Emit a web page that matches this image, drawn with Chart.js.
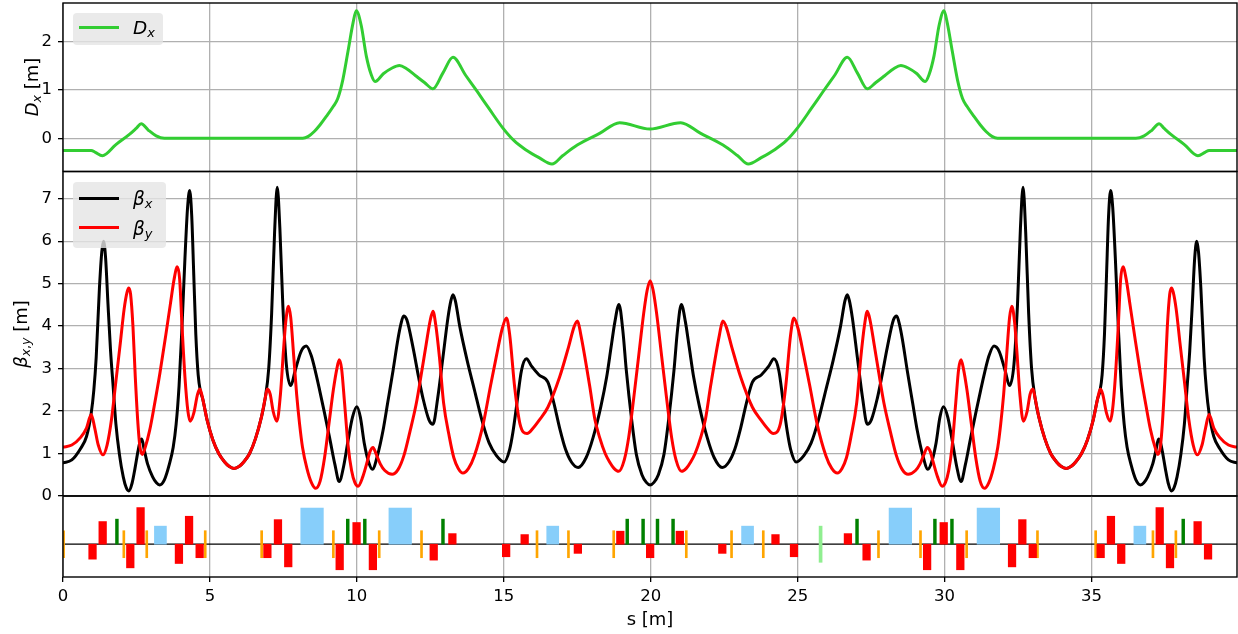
<!DOCTYPE html>
<html>
<head>
<meta charset="utf-8">
<script src="https://cdn.jsdelivr.net/npm/chart.js@4.4.1/dist/chart.umd.min.js"></script>
<style>
html, body { margin: 0; padding: 0; background: #fff; }
#wrap { position: relative; width: 1238px; height: 634px; overflow: hidden; font-family: 'DejaVu Sans', sans-serif; color: #000; }
canvas { position: absolute; left: 0; top: 0; }
.leg { position: absolute; background: rgba(229,229,229,0.8); border-radius: 4px; }
.sw { position: absolute; left: 6px; width: 40px; height: 3px; }
.lt { position: absolute; left: 60px; font-size: 18.5px; line-height: 1; white-space: nowrap; }
.yt { position: absolute; transform: translate(-50%, -50%) rotate(-90deg); font-size: 18px; line-height: 1; white-space: nowrap; }
.sb { font-size: 0.7em; vertical-align: -0.25em; line-height: 0; }
</style>
</head>
<body>
<div id="wrap">
  <canvas id="cD" width="1238" height="634"></canvas>
  <canvas id="cB" width="1238" height="634"></canvas>
  <canvas id="cL" width="1238" height="634"></canvas>

  <div class="yt" style="left:32px;top:87px"><i>D</i><span class="sb"><i>x</i></span> [m]</div>
  <div class="yt" style="left:21px;top:334px"><i>β</i><span class="sb"><i>x</i>,<i>y</i></span> [m]</div>

  <div class="leg" style="left:73px;top:13px;width:90px;height:32px">
    <div class="sw" style="top:13.2px;background:#32cd32"></div>
    <div class="lt" style="top:5.6px"><i>D</i><span class="sb"><i>x</i></span></div>
  </div>
  <div class="leg" style="left:73px;top:182px;width:93px;height:66px">
    <div class="sw" style="top:14.8px;background:#000"></div>
    <div class="lt" style="top:8.1px"><i>β</i><span class="sb"><i>x</i></span></div>
    <div class="sw" style="top:44.2px;background:#ff0000"></div>
    <div class="lt" style="top:37.5px"><i>β</i><span class="sb"><i>y</i></span></div>
  </div>
</div>
<script>
// lattice length [m]
const sMax = 39.95;

// horizontal dispersion D_x [m] : [s, value]
const dispX = [
  [0,-0.25],[0.96,-0.25],[1.1,-0.29],[1.34,-0.36],[1.8,-0.13],[2.26,0.08],[2.5,0.21],[2.66,0.30],
  [2.9,0.17],[3.17,0.05],[3.45,0.0],[8.16,0.0],[8.35,0.04],[8.55,0.14],[8.75,0.28],[8.96,0.45],
  [9.2,0.66],[9.35,0.82],[9.52,1.2],[9.7,1.8],[9.87,2.38],[9.98,2.63],[10.15,2.32],[10.32,1.70],
  [10.49,1.31],[10.62,1.17],[10.9,1.33],[11.2,1.45],[11.45,1.50],[11.68,1.44],[12.0,1.29],[12.3,1.15],
  [12.59,1.02],[12.93,1.35],[13.27,1.67],[13.7,1.30],[14.1,0.96],[14.5,0.61],[14.97,0.21],[15.35,-0.05],
  [15.73,-0.23],[16.2,-0.40],[16.64,-0.53],[17.0,-0.36],[17.5,-0.14],[18.26,0.10],[18.94,0.32],[19.97,0.19],
  [21.02,0.32],[21.7,0.10],[22.46,-0.14],[22.96,-0.36],[23.32,-0.53],[23.76,-0.40],[24.23,-0.23],[24.61,-0.05],
  [24.99,0.21],[25.46,0.61],[25.86,0.96],[26.26,1.30],[26.69,1.67],[27.03,1.35],[27.37,1.02],[27.66,1.15],
  [27.96,1.29],[28.28,1.44],[28.51,1.50],[28.76,1.45],[29.06,1.33],[29.34,1.17],[29.47,1.31],[29.64,1.70],
  [29.81,2.32],[29.98,2.63],[30.09,2.38],[30.26,1.80],[30.44,1.20],[30.61,0.82],[30.76,0.66],[31.0,0.45],
  [31.21,0.28],[31.41,0.14],[31.61,0.04],[31.8,0.0],[36.51,0.0],[36.79,0.05],[37.06,0.17],[37.3,0.30],
  [37.46,0.21],[37.7,0.08],[38.16,-0.13],[38.62,-0.36],[38.86,-0.29],[39.0,-0.25],[39.95,-0.25]
];

// horizontal beta function [m]
const betaX = [
  [0,0.78],[0.3,0.85],[0.6,1.12],[0.8,1.40],[0.96,1.95],[1.05,2.5],[1.13,3.27],[1.24,4.90],[1.32,5.75],
  [1.38,6.00],[1.45,5.60],[1.53,4.53],[1.62,3.40],[1.70,2.64],[1.80,1.70],[1.92,0.98],[2.05,0.45],[2.15,0.20],
  [2.24,0.12],[2.35,0.30],[2.45,0.65],[2.55,1.05],[2.62,1.28],[2.68,1.34],[2.76,1.10],[2.88,0.75],[3.05,0.45],
  [3.18,0.31],[3.29,0.26],[3.45,0.38],[3.62,0.75],[3.75,1.15],[3.85,1.69],[3.95,2.60],[4.05,4.00],[4.15,5.60],
  [4.24,6.80],[4.31,7.19],[4.38,6.60],[4.45,5.20],[4.52,3.80],[4.60,2.85],[4.68,2.45],[4.75,2.30],[4.90,1.80],
  [5.10,1.32],[5.30,1.00],[5.50,0.80],[5.65,0.70],[5.82,0.65],[6.00,0.70],[6.15,0.80],[6.35,1.00],[6.55,1.35],
  [6.75,1.85],[6.88,2.30],[7.00,3.00],[7.10,4.30],[7.20,6.20],[7.29,7.27],[7.38,6.30],[7.48,4.50],[7.60,3.10],
  [7.75,2.60],[7.90,2.95],[8.10,3.40],[8.28,3.53],[8.45,3.30],[8.60,2.90],[8.73,2.50],[8.90,1.95],[9.07,1.38],
  [9.25,0.75],[9.40,0.34],[9.55,0.70],[9.70,1.30],[9.85,1.85],[10.00,2.10],[10.12,1.85],[10.25,1.25],[10.40,0.80],
  [10.53,0.63],[10.70,0.95],[10.89,1.54],[11.05,2.20],[11.23,2.95],[11.40,3.70],[11.50,4.05],[11.59,4.24],[11.70,4.15],
  [11.91,3.50],[12.10,2.80],[12.25,2.30],[12.45,1.80],[12.59,1.69],[12.75,2.30],[12.93,3.27],[13.10,4.20],[13.20,4.60],
  [13.27,4.74],[13.35,4.60],[13.50,4.00],[13.75,3.20],[14.00,2.50],[14.25,1.80],[14.50,1.25],[14.75,0.95],[15.01,0.80],
  [15.20,1.10],[15.31,1.50],[15.45,2.20],[15.60,2.95],[15.77,3.23],[15.95,3.05],[16.20,2.85],[16.50,2.68],[16.70,2.20],
  [16.90,1.60],[17.10,1.10],[17.30,0.80],[17.53,0.67],[17.80,0.90],[18.04,1.38],[18.30,2.10],[18.50,2.80],[18.65,3.50],
  [18.78,4.10],[18.92,4.51],[19.05,3.90],[19.17,2.95],[19.35,1.80],[19.51,0.98],[19.70,0.50],[19.85,0.32],[19.98,0.26],
  [20.11,0.32],[20.26,0.50],[20.45,0.98],[20.61,1.80],[20.79,2.95],[20.91,3.90],[21.04,4.51],[21.18,4.10],[21.31,3.50],
  [21.46,2.80],[21.66,2.10],[21.92,1.38],[22.16,0.90],[22.43,0.67],[22.66,0.80],[22.86,1.10],[23.06,1.60],[23.26,2.20],
  [23.46,2.68],[23.76,2.85],[24.01,3.05],[24.19,3.23],[24.36,2.95],[24.51,2.20],[24.65,1.50],[24.76,1.10],[24.95,0.80],
  [25.21,0.95],[25.46,1.25],[25.71,1.80],[25.96,2.50],[26.21,3.20],[26.46,4.00],[26.61,4.60],[26.69,4.74],[26.76,4.60],
  [26.86,4.20],[27.03,3.27],[27.21,2.30],[27.37,1.69],[27.51,1.80],[27.71,2.30],[27.86,2.80],[28.05,3.50],[28.26,4.15],
  [28.37,4.24],[28.46,4.05],[28.56,3.70],[28.73,2.95],[28.91,2.20],[29.07,1.54],[29.26,0.95],[29.43,0.63],[29.56,0.80],
  [29.71,1.25],[29.84,1.85],[29.96,2.10],[30.11,1.85],[30.26,1.30],[30.41,0.70],[30.56,0.34],[30.71,0.75],[30.89,1.38],
  [31.06,1.95],[31.23,2.50],[31.36,2.90],[31.51,3.30],[31.68,3.53],[31.86,3.40],[32.06,2.95],[32.21,2.60],[32.36,3.10],
  [32.48,4.50],[32.58,6.30],[32.67,7.27],[32.76,6.20],[32.86,4.30],[32.96,3.00],[33.08,2.30],[33.21,1.85],[33.41,1.35],
  [33.61,1.00],[33.81,0.80],[33.96,0.70],[34.14,0.65],[34.31,0.70],[34.46,0.80],[34.66,1.00],[34.86,1.32],[35.06,1.80],
  [35.21,2.30],[35.28,2.45],[35.36,2.85],[35.44,3.80],[35.51,5.20],[35.58,6.60],[35.65,7.19],[35.72,6.80],[35.81,5.60],
  [35.91,4.00],[36.01,2.60],[36.11,1.69],[36.21,1.15],[36.34,0.75],[36.51,0.38],[36.67,0.26],[36.78,0.31],[36.91,0.45],
  [37.08,0.75],[37.20,1.10],[37.28,1.34],[37.34,1.28],[37.41,1.05],[37.51,0.65],[37.61,0.30],[37.72,0.12],[37.81,0.20],
  [37.91,0.45],[38.04,0.98],[38.16,1.70],[38.26,2.64],[38.34,3.40],[38.43,4.53],[38.51,5.60],[38.58,6.00],[38.64,5.75],
  [38.72,4.90],[38.83,3.27],[38.91,2.5],[39.00,1.95],[39.16,1.40],[39.36,1.12],[39.66,0.85],[39.95,0.78]
];

// vertical beta function [m]
const betaY = [
  [0,1.15],[0.3,1.20],[0.6,1.38],[0.8,1.60],[0.96,1.92],[1.08,1.60],[1.20,1.20],[1.36,0.97],[1.50,1.20],
  [1.65,1.80],[1.80,2.70],[1.95,3.60],[2.08,4.40],[2.18,4.80],[2.24,4.90],[2.30,4.75],[2.38,4.00],[2.46,2.80],
  [2.55,1.70],[2.62,1.15],[2.70,0.98],[2.80,1.15],[2.95,1.55],[3.10,2.10],[3.30,2.90],[3.50,3.80],[3.65,4.50],
  [3.78,5.10],[3.89,5.40],[3.97,5.10],[4.05,4.00],[4.15,2.80],[4.25,2.00],[4.33,1.76],[4.45,1.95],[4.58,2.40],
  [4.66,2.52],[4.75,2.30],[4.90,1.80],[5.10,1.32],[5.30,1.00],[5.50,0.80],[5.65,0.70],[5.82,0.65],[6.00,0.70],
  [6.15,0.80],[6.35,1.00],[6.55,1.35],[6.75,1.85],[6.88,2.30],[6.95,2.52],[7.05,2.40],[7.15,2.00],[7.28,1.76],
  [7.40,2.40],[7.50,3.40],[7.58,4.10],[7.67,4.47],[7.75,4.20],[7.85,3.30],[7.95,2.40],[8.05,1.70],[8.15,1.15],
  [8.30,0.65],[8.45,0.32],[8.60,0.18],[8.75,0.35],[8.90,0.90],[9.05,1.70],[9.20,2.50],[9.32,3.00],[9.40,3.21],
  [9.48,3.00],[9.58,2.20],[9.70,1.20],[9.82,0.60],[9.93,0.32],[10.04,0.23],[10.20,0.45],[10.35,0.80],[10.45,1.05],
  [10.55,1.14],[10.65,1.00],[10.80,0.75],[10.95,0.60],[11.20,0.51],[11.40,0.62],[11.60,0.95],[11.80,1.50],[12.02,2.17],
  [12.20,2.90],[12.36,3.58],[12.50,4.15],[12.59,4.35],[12.68,4.05],[12.81,3.27],[12.95,2.20],[13.15,1.38],[13.30,0.90],
  [13.45,0.65],[13.61,0.54],[13.80,0.65],[14.00,0.95],[14.30,1.70],[14.55,2.60],[14.75,3.30],[14.95,3.95],[15.09,4.19],
  [15.20,3.80],[15.37,2.56],[15.55,1.70],[15.79,1.47],[16.00,1.60],[16.20,1.78],[16.50,2.09],[16.90,2.80],[17.20,3.50],
  [17.40,4.00],[17.51,4.12],[17.62,3.80],[17.92,2.60],[18.10,1.80],[18.26,1.38],[18.45,1.00],[18.60,0.80],[18.75,0.65],
  [18.91,0.58],[19.10,0.85],[19.25,1.38],[19.42,2.30],[19.59,3.30],[19.76,4.30],[19.88,4.85],[19.98,5.07],
  [20.08,4.85],[20.20,4.30],[20.37,3.30],[20.54,2.30],[20.71,1.38],[20.86,0.85],[21.05,0.58],[21.21,0.65],[21.36,0.80],
  [21.51,1.00],[21.70,1.38],[21.86,1.80],[22.04,2.60],[22.34,3.80],[22.45,4.12],[22.56,4.00],[22.76,3.50],[23.06,2.80],
  [23.46,2.09],[23.76,1.78],[23.96,1.60],[24.17,1.47],[24.41,1.70],[24.59,2.56],[24.76,3.80],[24.87,4.19],[25.01,3.95],
  [25.21,3.30],[25.41,2.60],[25.66,1.70],[25.96,0.95],[26.16,0.65],[26.35,0.54],[26.51,0.65],[26.66,0.90],[26.81,1.38],
  [27.01,2.20],[27.15,3.27],[27.28,4.05],[27.37,4.35],[27.46,4.15],[27.60,3.58],[27.76,2.90],[27.94,2.17],[28.16,1.50],
  [28.36,0.95],[28.56,0.62],[28.76,0.51],[29.01,0.60],[29.16,0.75],[29.31,1.00],[29.41,1.14],[29.51,1.05],[29.61,0.80],
  [29.76,0.45],[29.92,0.23],[30.03,0.32],[30.14,0.60],[30.26,1.20],[30.38,2.20],[30.48,3.00],[30.56,3.21],[30.64,3.00],
  [30.76,2.50],[30.91,1.70],[31.06,0.90],[31.21,0.35],[31.36,0.18],[31.51,0.32],[31.66,0.65],[31.81,1.15],[31.91,1.70],
  [32.01,2.40],[32.11,3.30],[32.21,4.20],[32.29,4.47],[32.38,4.10],[32.46,3.40],[32.56,2.40],[32.68,1.76],[32.81,2.00],
  [32.91,2.40],[33.01,2.52],[33.08,2.30],[33.21,1.85],[33.41,1.35],[33.61,1.00],[33.81,0.80],[33.96,0.70],[34.14,0.65],
  [34.31,0.70],[34.46,0.80],[34.66,1.00],[34.86,1.32],[35.06,1.80],[35.21,2.30],[35.30,2.52],[35.38,2.40],[35.51,1.95],
  [35.63,1.76],[35.71,2.00],[35.81,2.80],[35.91,4.00],[35.99,5.10],[36.07,5.40],[36.18,5.10],[36.31,4.50],[36.46,3.80],
  [36.66,2.90],[36.86,2.10],[37.01,1.55],[37.16,1.15],[37.26,0.98],[37.34,1.15],[37.41,1.70],[37.50,2.80],[37.58,4.00],
  [37.66,4.75],[37.72,4.90],[37.78,4.80],[37.88,4.40],[38.01,3.60],[38.16,2.70],[38.31,1.80],[38.46,1.20],[38.60,0.97],
  [38.76,1.20],[38.88,1.60],[39.00,1.92],[39.16,1.60],[39.36,1.38],[39.66,1.20],[39.95,1.15]
];

// lattice elements: quadrupoles [centre s, strength], bends/sextupoles/correctors/monitor by centre s
const quads = [
  [1.005,-0.31],[1.35,0.47],[2.29,-0.49],[2.64,0.76],[3.945,-0.40],[4.29,0.58],[4.65,-0.28],
  [6.955,-0.28],[7.315,0.51],[7.665,-0.47],[9.415,-0.53],[9.99,0.45],[10.545,-0.53],[12.615,-0.33],
  [13.25,0.22],[15.08,-0.26],[15.71,0.20],[17.52,-0.19],[18.965,0.27],[19.98,-0.28],[20.99,0.27],
  [22.435,-0.19],[24.245,0.20],[24.875,-0.26],[26.71,0.22],[27.345,-0.33],[29.405,-0.53],[29.97,0.45],
  [30.535,-0.53],[32.295,-0.47],[32.645,0.51],[33.0,-0.28],[35.31,-0.28],[35.66,0.58],[36.01,-0.40],
  [37.32,0.76],[37.67,-0.49],[38.61,0.47],[38.965,-0.31]
];
const bendsLong = [8.475, 11.475, 28.495, 31.49];
const bendsShort = [3.315, 16.665, 23.295, 36.645];
const sextupoles = [1.835, 9.69, 10.27, 12.93, 19.2, 19.74, 20.23, 20.76, 27.02, 29.67, 30.25, 38.12];
const correctors = [0.02, 2.07, 2.85, 4.84, 6.76, 9.2, 10.76, 12.2, 16.13, 17.2, 18.74, 21.21, 22.75,
  23.83, 27.75, 29.18, 30.75, 33.16, 35.14, 37.09, 37.87];
const monitors = [25.78];

const W = 1238, H = 634, LEFT = 63, RIGHT = 1;
const GRID = '#b0b0b0';

Chart.defaults.font.family = "'DejaVu Sans', sans-serif";
Chart.defaults.font.size = 16.5;
Chart.defaults.color = '#000';

const xy = a => a.map(p => ({ x: p[0], y: p[1] }));

// keep every panel's plot area exactly where the layout padding puts it
const noPad = s => { s.paddingTop = 0; s.paddingBottom = 0; s.paddingLeft = 0; s.paddingRight = 0; };

const frame = {
  id: 'frame',
  afterDraw(chart) {
    const { ctx, chartArea: a } = chart;
    ctx.save();
    ctx.strokeStyle = '#000';
    ctx.lineWidth = 1.4;
    ctx.strokeRect(a.left, a.top, a.right - a.left, a.bottom - a.top);
    ctx.restore();
  }
};

const base = {
  responsive: false,
  animation: false,
  devicePixelRatio: 1,
  events: [],
  plugins: { legend: { display: false }, tooltip: { enabled: false } }
};

const hiddenX = {
  type: 'linear', min: 0, max: sMax, offset: false,
  ticks: { display: false, stepSize: 5, includeBounds: false },
  grid: { color: GRID, lineWidth: 1.3, drawTicks: false, offset: false },
  border: { display: false },
  afterFit: s => { s.height = 0; noPad(s); }
};

const yGrid = { color: GRID, lineWidth: 1.3, tickColor: '#000', tickLength: 5, tickWidth: 1.3 };

const lineDs = (data, color, order) => ({
  data: xy(data), borderColor: color, borderWidth: 3, pointRadius: 0,
  cubicInterpolationMode: 'monotone', borderJoinStyle: 'round', borderCapStyle: 'round', order
});

// dispersion panel
new Chart(document.getElementById('cD'), {
  type: 'line',
  data: { datasets: [lineDs(dispX, '#32cd32', 0)] },
  options: Object.assign({}, base, {
    layout: { padding: { top: 3, bottom: H - 171.5, left: 0, right: RIGHT } },
    scales: {
      x: hiddenX,
      y: { min: -0.685, max: 2.79, ticks: { stepSize: 1, includeBounds: false, padding: 6 },
           grid: yGrid, border: { display: false }, afterFit: s => { s.width = LEFT; noPad(s); } }
    }
  }),
  plugins: [frame]
});

// beta panel
new Chart(document.getElementById('cB'), {
  type: 'line',
  data: { datasets: [lineDs(betaX, '#000000', 1), lineDs(betaY, '#ff0000', 0)] },
  options: Object.assign({}, base, {
    layout: { padding: { top: 171.5, bottom: H - 496, left: 0, right: RIGHT } },
    scales: {
      x: hiddenX,
      y: { min: 0, max: 7.64, ticks: { stepSize: 1, includeBounds: false, padding: 6 },
           grid: yGrid, border: { display: false }, afterFit: s => { s.width = LEFT; noPad(s); } }
    }
  }),
  plugins: [frame]
});

// lattice panel
const barDs = (data, color, thickness, order) => ({
  type: 'bar', data, backgroundColor: color, borderWidth: 0, barThickness: thickness, grouped: false, order
});

new Chart(document.getElementById('cL'), {
  type: 'bar',
  data: {
    datasets: [
      { type: 'line', data: xy([[0, 0], [sMax, 0]]), borderColor: '#000', borderWidth: 1.3, pointRadius: 0, order: 10 },
      barDs(bendsLong.map(s => ({ x: s, y: [0, 0.75] })), '#87cefa', 22.6, 1),
      barDs(bendsShort.map(s => ({ x: s, y: [0, 0.375] })), '#87cefa', 12, 1),
      barDs(quads.map(q => ({ x: q[0], y: [0, q[1]] })), '#ff0000', 7.6, 0),
      barDs(sextupoles.map(s => ({ x: s, y: [0, 0.52] })), '#008000', 2.8, 0),
      barDs(correctors.map(s => ({ x: s, y: [-0.28, 0.28] })), '#ffa500', 2, 0),
      barDs(monitors.map(s => ({ x: s, y: [-0.375, 0.375] })), '#90ee90', 3, 0)
    ]
  },
  options: Object.assign({}, base, {
    layout: { padding: { top: 496, bottom: 0, left: LEFT, right: RIGHT } },
    scales: {
      x: {
        type: 'linear', min: 0, max: sMax, offset: false,
        ticks: { stepSize: 5, includeBounds: false, padding: 5, maxRotation: 0, autoSkip: false },
        grid: { color: GRID, lineWidth: 1.3, tickColor: '#000', tickLength: 5, tickWidth: 1.3, offset: false },
        border: { display: false },
        title: { display: true, text: 's [m]', font: { size: 18 }, padding: { top: 0, bottom: 3 } },
        afterFit: s => { s.height = H - 577; noPad(s); }
      },
      y: { display: false, min: -0.68, max: 1.0, afterFit: noPad }
    }
  }),
  plugins: [frame]
});
</script>
</body>
</html>
